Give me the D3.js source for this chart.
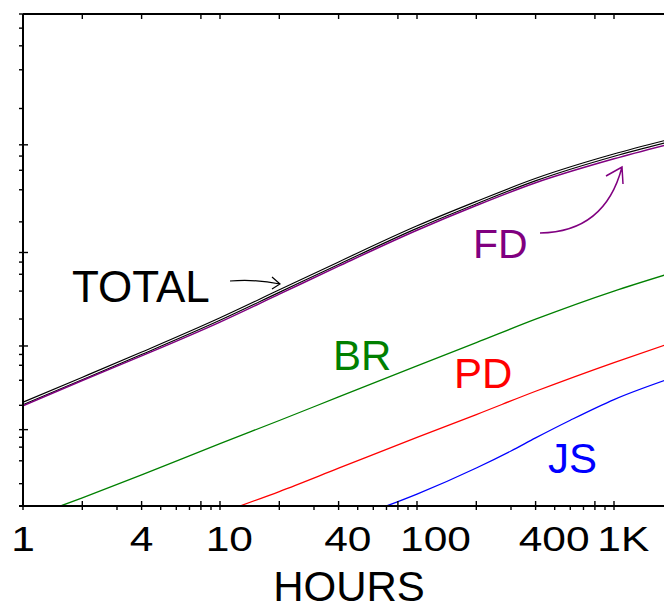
<!DOCTYPE html>
<html>
<head>
<meta charset="utf-8">
<script src="https://cdn.jsdelivr.net/npm/d3@7"></script>
<style>
  body { margin: 0; background: #fff; }
  text { font-family: "Liberation Sans", Arial, sans-serif; }
</style>
</head>
<body>
<svg id="chart" width="664" height="605"></svg>
<script>
// values (cumulative fraction failed vs hours)
var hours = [1, 2, 4, 10, 20, 40, 100, 200, 400, 1000, 1800]
var total = [2.11e-6, 4.2e-6, 8.25e-6, 2.0e-5, 4.0e-5, 7.8e-5, 1.78e-4, 3.04e-4, 4.95e-4, 8.15e-4, 1.06e-3]
var fd    = [1.97e-6, 3.97e-6, 7.7e-6, 1.85e-5, 3.71e-5, 7.27e-5, 1.66e-4, 2.86e-4, 4.64e-4, 7.58e-4, 9.9e-4]

var brHours = [1.55, 2, 4, 10, 20, 40, 100, 200, 400, 1000, 1800]
var br      = [1e-7, 1.29e-7, 2.61e-7, 6.67e-7, 1.3e-6, 2.53e-6, 5.9e-6, 1.09e-5, 1.99e-5, 4.0e-5, 5.87e-5]

var pdHours = [12.6, 20, 40, 100, 200, 400, 1000, 1800]
var pd      = [1e-7, 1.57e-7, 3.2e-7, 8e-7, 1.54e-6, 2.96e-6, 6.46e-6, 1.02e-5]

var jsHours = [70, 100, 200, 300, 400, 600, 1000, 1800]
var js      = [1e-7, 1.45e-7, 3.22e-7, 5.36e-7, 7.87e-7, 1.31e-6, 2.35e-6, 3.97e-6]

var xTickLabels = [1, 4, 10, 40, 100, 400, 1000]
var xInnerMults = [1, 2, 4, 8]
var yDecades = [1e-7, 1e-6, 1e-5, 1e-4, 1e-3, 1e-2]
var yMults = [1, 2, 4, 6, 8]

// inverse normal cdf (Acklam) -> lognormal probability paper
function probit(p) {
  var a = [-3.969683028665376e+01, 2.209460984245205e+02, -2.759285104469687e+02, 1.383577518672690e+02, -3.066479806614716e+01, 2.506628277459239e+00]
  var b = [-5.447609879822406e+01, 1.615858368580409e+02, -1.556989798598866e+02, 6.680131188771972e+01, -1.328068155288572e+01]
  var c = [-7.784894002430293e-03, -3.223964580411365e-01, -2.400758277161838e+00, -2.549732539343734e+00, 4.374664141464968e+00, 2.938163982698783e+00]
  var d = [7.784695709041462e-03, 3.224671290700398e-01, 2.445134137142996e+00, 3.754408661907416e+00]
  var q, r
  if (p < 0.02425) {
    q = Math.sqrt(-2 * Math.log(p))
    return (((((c[0]*q+c[1])*q+c[2])*q+c[3])*q+c[4])*q+c[5]) / ((((d[0]*q+d[1])*q+d[2])*q+d[3])*q+1)
  }
  q = p - 0.5; r = q * q
  return (((((a[0]*r+a[1])*r+a[2])*r+a[3])*r+a[4])*r+a[5])*q / (((((b[0]*r+b[1])*r+b[2])*r+b[3])*r+b[4])*r+1)
}

var svg = d3.select("#chart")
var padL = 23, padR = 664, padT = 14, padB = 506

var x = d3.scaleLog().domain([1, 1000]).range([padL, 614])
var z = d3.scaleLinear().domain([probit(1e-7), probit(1e-2)]).range([padB, padT])
function y(p) { return z(probit(p)) }

svg.append("clipPath").attr("id", "plot")
   .append("rect").attr("x", padL).attr("y", padT).attr("width", padR - padL).attr("height", padB - padT)

var line = d3.line()
  .x(function(d) { return x(d[0]) })
  .y(function(d) { return y(d[1]) })
  .curve(d3.curveMonotoneX)

function pairs(h, v) { return h.map(function(t, i) { return [t, v[i]] }) }

var g = svg.append("g").attr("clip-path", "url(#plot)")

g.append("path").attr("d", line(pairs(brHours, br))).attr("fill", "none").attr("stroke", "#008000").attr("stroke-width", 1.3)
g.append("path").attr("d", line(pairs(pdHours, pd))).attr("fill", "none").attr("stroke", "#ff0000").attr("stroke-width", 1.3)
g.append("path").attr("d", line(pairs(jsHours, js))).attr("fill", "none").attr("stroke", "#0000ff").attr("stroke-width", 1.3)
g.append("path").attr("d", line(pairs(hours, total))).attr("fill", "none").attr("stroke", "#000").attr("stroke-width", 3.4)
g.append("path").attr("d", line(pairs(hours, total))).attr("fill", "none").attr("stroke", "#fff").attr("stroke-width", 1.1)
g.append("path").attr("d", line(pairs(hours, fd))).attr("fill", "none").attr("stroke", "#800080").attr("stroke-width", 1.5)

// frame (right side is cut off in the original)
var axes = svg.append("g").attr("stroke", "#000").attr("fill", "none")
axes.append("path").attr("d", "M" + padL + "," + padT + "H" + padR).attr("stroke-width", 2)
axes.append("path").attr("d", "M" + padL + "," + padT + "V" + padB).attr("stroke-width", 2)
axes.append("path").attr("d", "M" + (padL - 4) + "," + padB + "H" + padR).attr("stroke-width", 2)

// x ticks: every integer outside, 1-2-4-8 also inside (top and bottom)
;[1, 10, 100, 1000].forEach(function(dec) {
  for (var m = 1; m <= 9; m++) {
    var v = dec * m
    var px = x(v)
    if (px > padR) continue
    var inner = xInnerMults.indexOf(m) > -1
    axes.append("line").attr("x1", px).attr("x2", px)
        .attr("y1", inner ? padB - 5 : padB).attr("y2", padB + 4).attr("stroke-width", 1.4)
    if (inner) {
      axes.append("line").attr("x1", px).attr("x2", px)
          .attr("y1", padT).attr("y2", padT + 5).attr("stroke-width", 1.4)
    }
  }
})

// y ticks
yDecades.forEach(function(dec) {
  yMults.forEach(function(m) {
    var v = dec * m
    if (v > 1e-2 + 1e-12) return
    var py = y(v)
    axes.append("line").attr("x1", padL - 4).attr("x2", m == 1 ? padL + 5 : padL)
        .attr("y1", py).attr("y2", py).attr("stroke-width", 1.4)
  })
})

// x tick labels
xTickLabels.forEach(function(v) {
  var s = v >= 1000 ? (v / 1000) + "K" : String(v)
  svg.append("text")
     .attr("transform", "translate(" + (x(v) + (s.length - 1) * 9.25) + ",551) scale(1.18,1)")
     .attr("text-anchor", "middle")
     .attr("font-size", 36)
     .attr("fill", "#000")
     .text(s)
})

svg.append("text").attr("x", 349).attr("y", 601).attr("text-anchor", "middle")
   .attr("font-size", 42).attr("fill", "#000").text("HOURS")

// series labels and arrows
svg.append("text").attr("x", 72).attr("y", 302).attr("font-size", 44).attr("fill", "#000").text("TOTAL")
svg.append("text").attr("x", 473).attr("y", 258).attr("font-size", 41).attr("fill", "#800080").text("FD")
svg.append("text").attr("x", 333).attr("y", 370).attr("font-size", 42).attr("fill", "#008000").text("BR")
svg.append("text").attr("x", 454).attr("y", 387.5).attr("font-size", 42).attr("fill", "#ff0000").text("PD")
svg.append("text").attr("x", 548).attr("y", 472.5).attr("font-size", 42).attr("fill", "#0000ff").text("JS")

svg.append("path").attr("d", "M230,281 Q256,279 280,284 M272,277 L280,284 L272,289")
   .attr("fill", "none").attr("stroke", "#000").attr("stroke-width", 1.2)
svg.append("path").attr("d", "M540,233 Q605,232 622,167 M606,176 L622,167 L623,184")
   .attr("fill", "none").attr("stroke", "#800080").attr("stroke-width", 1.5)
</script>
</body>
</html>
